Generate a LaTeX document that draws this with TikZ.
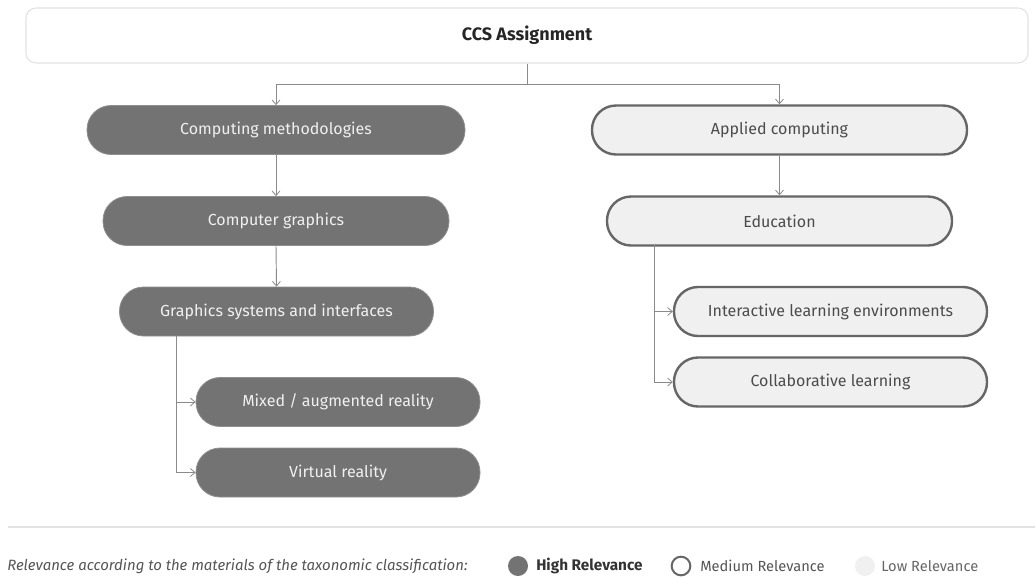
\documentclass[tikz,border=0pt]{standalone}
\usepackage{fontspec}
\setmainfont{Fira Sans}
\usetikzlibrary{arrows.meta}
\definecolor{darkpill}{HTML}{737373}
\definecolor{lightpill}{HTML}{F0F0F0}
\definecolor{pillline}{HTML}{666666}
\definecolor{connline}{HTML}{8A8A8A}
\definecolor{framegray}{HTML}{E2E2E2}
\definecolor{legendtext}{HTML}{555555}
\begin{document}
\begin{tikzpicture}[x=0.75pt,y=-0.75pt,
  pill/.style={rounded corners=18pt, minimum height=36.75pt, inner sep=0pt,
    font=\fontsize{12pt}{14pt}\selectfont},
  high/.style={pill, fill=darkpill, draw=darkpill!80!white, line width=0.6pt, text=white!94!black},
  medium/.style={pill, fill=lightpill, draw=pillline, line width=1.8pt, text=black!70},
  conn/.style={draw=connline, line width=0.7pt},
  arr/.style={conn, -{Straight Barb[length=3.5pt,width=6pt,line width=0.6pt]}},
  legend/.style={font=\fontsize{11pt}{13pt}\selectfont, text=legendtext, inner sep=0pt, anchor=west}
]
\useasboundingbox (0,0) rectangle (1035,576);

% root
\node[draw=framegray, line width=0.8pt, fill=white, rounded corners=7.5pt,
      minimum width=751.5pt, minimum height=41.25pt,
      font=\fontsize{13.5pt}{15pt}\selectfont\bfseries, text=black!85] (root) at (527,35.5) {CCS Assignment};

% left branch
\node[high, minimum width=283.5pt] (cm) at (276,130) {Computing methodologies};
\node[high, minimum width=259.5pt] (cg) at (276,221) {Computer graphics};
\node[high, minimum width=235.5pt] (gs) at (276.5,311.5) {Graphics systems and interfaces};
\node[high, minimum width=213pt] (mr) at (338,402) {Mixed / augmented reality};
\node[high, minimum width=213pt] (vr) at (338,472.5) {Virtual reality};

% right branch
\node[medium, minimum width=281.25pt] (ac) at (779.5,130) {Applied computing};
\node[medium, minimum width=258.75pt] (ed) at (779.5,221) {Education};
\node[medium, minimum width=234.75pt] (il) at (830.5,311.5) {Interactive learning environments};
\node[medium, minimum width=234.75pt] (cl) at (830.5,382) {Collaborative learning};

% connectors
\coordinate (split) at (527,84);
\draw[conn] (root.south) -- (split);
\draw[arr] (split) -| (cm.north);
\draw[arr] (split) -| (ac.north);
\draw[arr] (cm.south) -- (cg.north);
\draw[arr] (cg.south) -- (gs.north);
\draw[arr] (ac.south) -- (ed.north);

\coordinate (gsfork) at (176,336);
\draw[arr] (gsfork) |- (mr.west);
\draw[arr] (gsfork) |- (vr.west);

\coordinate (edfork) at (654,245);
\draw[arr] (edfork) |- (il.west);
\draw[arr] (edfork) |- (cl.west);

% legend
\draw[framegray, line width=1.5pt] (8,527) -- (1035,527);
\node[legend, font=\fontsize{11.2pt}{13pt}\selectfont\itshape] (lgtext) at (7,566)
  {Relevance according to the materials of the taxonomic classification:};
\fill[darkpill] (518,566) circle [radius=7.5pt];
\node[legend, font=\fontsize{11.5pt}{13pt}\selectfont\bfseries, text=black!80] (lghigh) at (536,566) {High Relevance};
\draw[pillline, line width=1.5pt, fill=white] (681,566) circle [radius=7pt];
\node[legend] (lgmed) at (700,566) {Medium Relevance};
\fill[lightpill] (865,566) circle [radius=7.5pt];
\node[legend, text=black!60] (lglow) at (881,566) {Low Relevance};
\end{tikzpicture}
\end{document}
